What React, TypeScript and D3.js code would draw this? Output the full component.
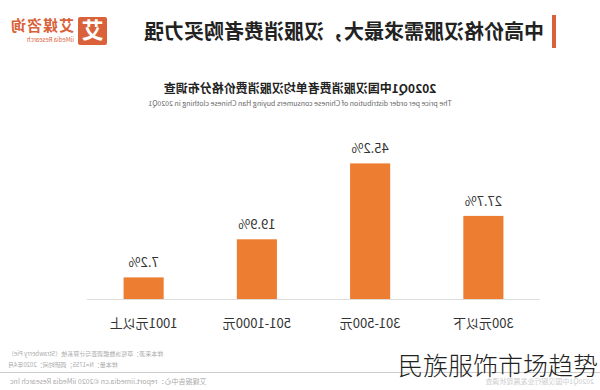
import * as d3 from "d3"

// price buckets and share of orders (%)
const categories = ["300元以下", "301-500元", "501-1000元", "1001元以上"]
const shares = [27.7, 45.2, 19.9, 7.2]

const headline = "中高价格汉服需求最大，汉服消费者购买力强"
const chartTitle = "2020Q1中国汉服消费者单均汉服消费价格分布调查"
const chartSubtitle = "The price per order distribution of Chinese consumers buying Han Chinese clothing in 2020Q1"
const notes = ["样本来源：草莓派数据调查与计算系统（Strawberry Pie）", "样本量：N=1755；调研时间：2020年4月"]
const footer = "艾媒报告中心：report.iimedia.cn   ©2020  iiMedia Research  Inc"
const watermark = "民族服饰市场趋势"

const W = 600
const H = 390
const FONT = '"Noto Sans CJK SC", "Noto Sans", sans-serif'
const ORANGE = "#ED7D31"

export default function App() {
	// plot area
	const baseline = 299
	const x = d3.scaleBand().domain(categories).range([60, 513]).paddingInner(0.646).paddingOuter(0.323)
	const y = d3.scaleLinear().domain([0, 50]).range([baseline, 149])

	return (
		<svg width={W} height={H} style={{ position: "absolute", left: 0, top: 0, background: "#fff" }} fontFamily={FONT}>
			{/* the source picture is mirrored, so the whole slide is flipped */}
			<g transform={`translate(${W},0) scale(-1,1)`}>
				{/* header */}
				<rect x={44} y={15} width={4} height={33} fill="#D9623B" />
				<text x={56} y={39} fontSize={20} fontWeight="bold" fill="#222">{headline}</text>
				<rect x={493} y={17} width={29} height={28} rx={2} fill="#D9623B" />
				<text x={507.5} y={38} fontSize={22} fontWeight="bold" fill="#fff" textAnchor="middle">艾</text>
				<text x={526} y={31} fontSize={15} fontWeight="bold" fill="#D9623B" letterSpacing={1}>艾媒咨询</text>
				<text x={526} y={42} fontSize={6} fill="#D9623B">iiMedia Research</text>

				{/* chart titles */}
				<text x={W / 2} y={93} fontSize={12} fontWeight="bold" fill="#222" textAnchor="middle">{chartTitle}</text>
				<text x={W / 2} y={106} fontSize={7} fill="#666" textAnchor="middle">{chartSubtitle}</text>

				{/* bars */}
				{categories.map((c, i) => (
					<g key={c}>
						<rect x={x(c)} y={y(shares[i])} width={x.bandwidth()} height={baseline - y(shares[i])} fill={ORANGE} />
						<text x={x(c)! + x.bandwidth() / 2} y={y(shares[i]) - 10} fontSize={13} fill="#333" textAnchor="middle">
							{shares[i].toFixed(1)}%
						</text>
						<text x={x(c)! + x.bandwidth() / 2} y={328} fontSize={13} fill="#333" textAnchor="middle">{c}</text>
					</g>
				))}
				<line x1={60} x2={513} y1={baseline + 0.5} y2={baseline + 0.5} stroke="#ddd" />

				{/* notes and footer */}
				{notes.map((n, i) => (
					<text key={n} x={592} y={356 + i * 11} fontSize={6} fill="#aaa" textAnchor="end">{n}</text>
				))}
				<line x1={0} x2={W} y1={372.5} y2={372.5} stroke="#ccc" />
				<text x={590} y={384} fontSize={7} fill="#aaa" textAnchor="end">{footer}</text>
				<text x={6} y={384} fontSize={7} fill="#ccc">2020Q1中国汉服行业发展现状调查</text>
			</g>

			{/* watermark, not mirrored */}
			<text x={398} y={375} fontSize={25} fill="#222" fontWeight={300}>{watermark}</text>
		</svg>
	)
}
